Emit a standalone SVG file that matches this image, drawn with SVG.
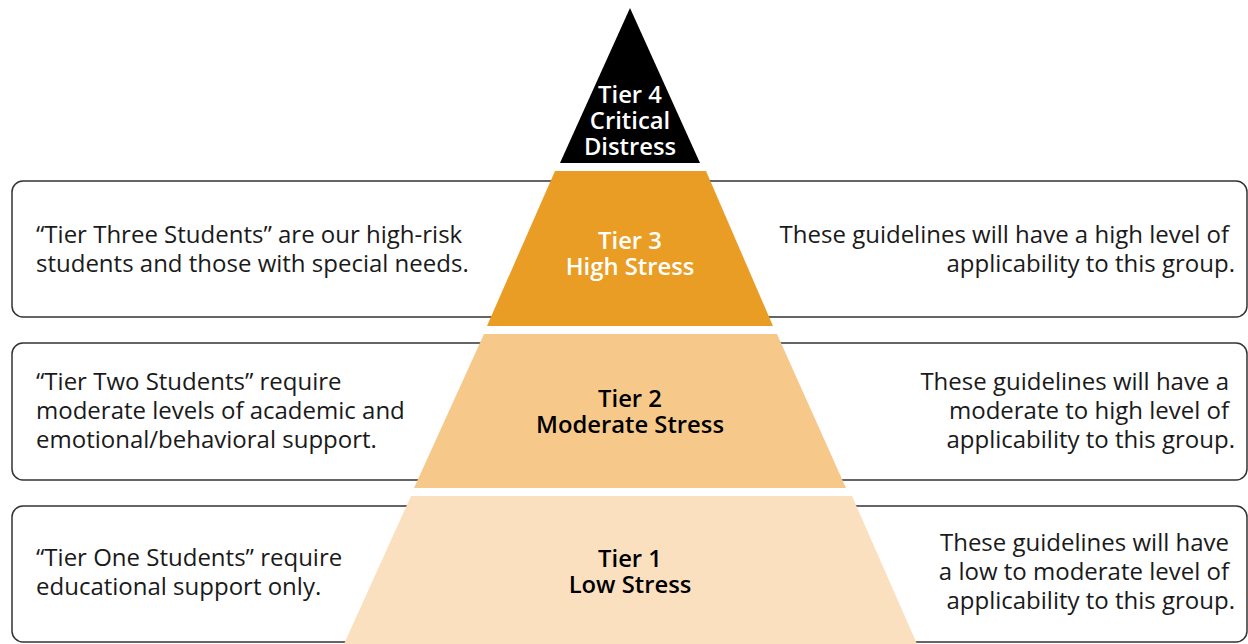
<svg xmlns="http://www.w3.org/2000/svg" width="1248" height="644" viewBox="0 0 1248 644">
<style>
.box{fill:#fff;stroke:#333;stroke-width:1.5}
.t{font-family:"Open Sans","Noto Sans","Liberation Sans",sans-serif;font-size:24px;fill:#1a1a1a}
.l{font-family:"Open Sans","Noto Sans","Liberation Sans",sans-serif;font-size:23.8px;font-weight:600;text-anchor:middle}
.e{text-anchor:end}
</style>
<rect width="1248" height="644" fill="#fff"/>
<g id="row3"><rect class="box" x="12" y="181" width="1235" height="136" rx="11"/></g>
<g id="row2"><rect class="box" x="12" y="343" width="1235" height="137" rx="11"/></g>
<g id="row1"><rect class="box" x="12" y="506" width="1235" height="136" rx="11"/></g>
<g id="tier4">
<polygon points="630,8 700,163 560,163" fill="#000"/>
<text class="l" x="630" y="103" fill="#fff">Tier 4</text>
<text class="l" x="630" y="129" fill="#fff">Critical</text>
<text class="l" x="630" y="155" fill="#fff">Distress</text>
</g>
<g id="tier3">
<polygon points="555,171 706,171 773,326 487,326" fill="#EA9D24"/>
<text class="l" x="630" y="249" fill="#fff">Tier 3</text>
<text class="l" x="630" y="275" fill="#fff">High Stress</text>
</g>
<g id="tier2">
<polygon points="484,334 777,334 846,488 414,488" fill="#F6C98B"/>
<text class="l" x="630" y="407" fill="#000">Tier 2</text>
<text class="l" x="630" y="433" fill="#000">Moderate Stress</text>
</g>
<g id="tier1">
<polygon points="411,496 852,496 917,644 344,644" fill="#FBE0C0"/>
<text class="l" x="630" y="567" fill="#000">Tier 1</text>
<text class="l" x="630" y="593" fill="#000">Low Stress</text>
</g>
<g id="left3">
<text class="t" x="36" y="243">“Tier Three Students” are our high-risk</text>
<text class="t" x="36" y="272">students and those with special needs.</text>
</g>
<g id="left2">
<text class="t" x="36" y="390">“Tier Two Students” require</text>
<text class="t" x="36" y="419">moderate levels of academic and</text>
<text class="t" x="36" y="448">emotional/behavioral support.</text>
</g>
<g id="left1">
<text class="t" x="36" y="566">“Tier One Students” require</text>
<text class="t" x="36" y="595">educational support only.</text>
</g>
<g id="right3">
<text class="t e" x="1229" y="243">These guidelines will have a high level of</text>
<text class="t e" x="1235" y="272">applicability to this group.</text>
</g>
<g id="right2">
<text class="t e" x="1229" y="390">These guidelines will have a</text>
<text class="t e" x="1229" y="419">moderate to high level of</text>
<text class="t e" x="1235" y="448">applicability to this group.</text>
</g>
<g id="right1">
<text class="t e" x="1229" y="551">These guidelines will have</text>
<text class="t e" x="1229" y="580">a low to moderate level of</text>
<text class="t e" x="1235" y="609">applicability to this group.</text>
</g>
<g id="connectors"></g>
</svg>
